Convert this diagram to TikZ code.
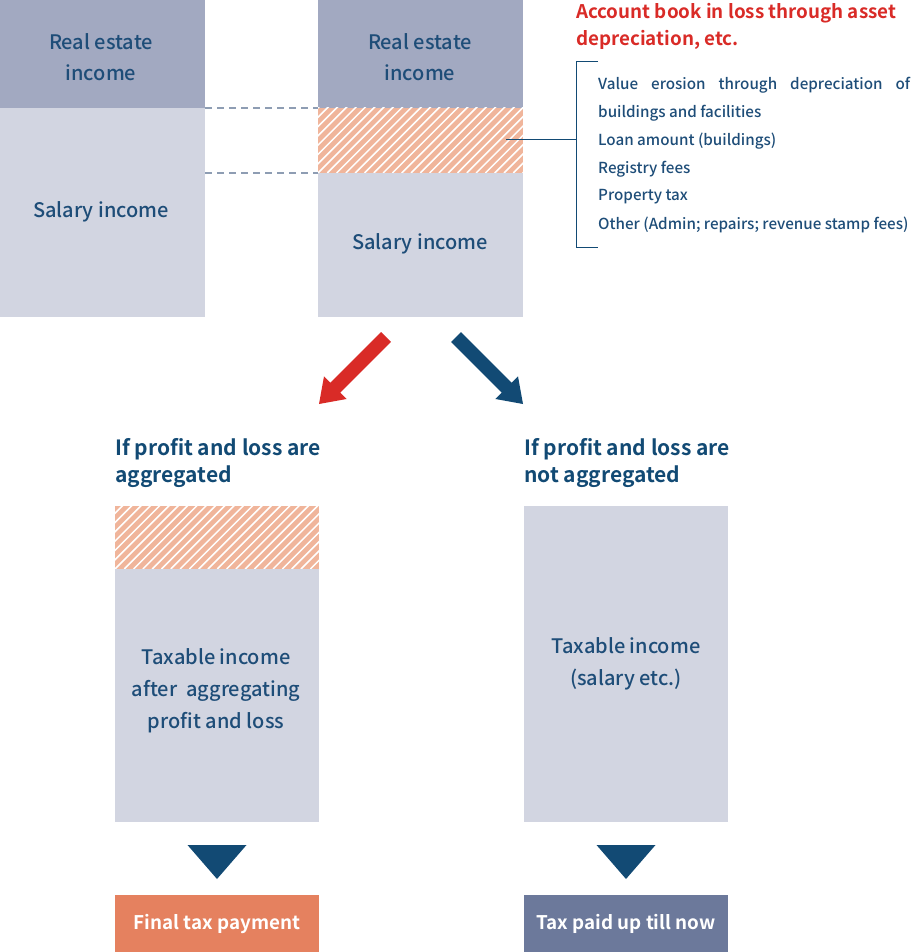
\documentclass[tikz,border=0pt]{standalone}
\usepackage{fontspec}
\setmainfont{Noto Sans CJK JP}[UprightFont=* Medium, BoldFont=* Bold]
\usetikzlibrary{calc}
\definecolor{darkcol}{HTML}{A2A9C1}
\definecolor{lightcol}{HTML}{D2D5E1}
\definecolor{navy}{HTML}{124A74}
\definecolor{txtblue}{HTML}{1E4D78}
\definecolor{redc}{HTML}{D92B27}
\definecolor{hatchc}{HTML}{F0B59B}
\definecolor{orangebox}{HTML}{E5815F}
\definecolor{slatebox}{HTML}{6C799B}
\definecolor{dashc}{HTML}{8E9DB3}
\tikzset{
  blk/.style={anchor=north west, inner sep=0pt, outer sep=0pt, draw=none},
  darkblk/.style={blk, fill=darkcol},
  lightblk/.style={blk, fill=lightcol},
  hatchblk/.style={blk, fill=hatchc, path picture={
      \path (path picture bounding box.south west) coordinate (hsw);
      \foreach \i in {-12,...,26} \draw[white, line width=1.5pt] ([xshift=\i*9.3pt]hsw) -- ++(90,-90);
    }},
  coltxt/.style={text=txtblue, font=\fontsize{20}{31}\selectfont, align=center, inner sep=0pt},
  listtxt/.style={text=txtblue, font=\fontsize{15.2}{28}\selectfont, anchor=west, inner sep=0pt},
  headtxt/.style={text=navy, font=\bfseries\fontsize{21}{28}\selectfont, anchor=west, inner sep=0pt},
  redtxt/.style={text=redc, font=\bfseries\fontsize{18.8}{27}\selectfont, anchor=west, inner sep=0pt},
  finbox/.style={blk, text=white, font=\bfseries\fontsize{18.8}{24}\selectfont, minimum width=204pt, minimum height=57pt},
  dashline/.style={draw=dashc, line width=1.2pt, dash pattern=on 7pt off 5pt},
  brk/.style={draw=navy, line width=1pt},
}
\begin{document}
\begin{tikzpicture}[x=1pt, y=-1pt]
\useasboundingbox (0,0) rectangle (912,952);
% left column
\node[darkblk, minimum width=205pt, minimum height=108pt] (reA) at (0,0) {};
\node[lightblk, minimum width=205pt, minimum height=209pt] (salA) at (0,108) {};
\node[coltxt] (reAt) at (101,57.5) {Real estate\\income};
\node[coltxt] (salAt) at (101,212) {Salary income};
% middle column
\node[darkblk, minimum width=205pt, minimum height=108pt] (reB) at (318,0) {};
\node[hatchblk, minimum width=205pt, minimum height=65pt] (lossB) at (318,108) {};
\node[lightblk, minimum width=205pt, minimum height=144pt] (salB) at (318,173) {};
\node[coltxt] (reBt) at (420,57.5) {Real estate\\income};
\node[coltxt] (salBt) at (420,244) {Salary income};
% dashed guides
\draw[dashline] (reA.south east) -- (reB.south west);
\draw[dashline] (salA.east |- lossB.south) -- (lossB.south west);
% bracket and connector
\coordinate (cstart) at (506,140);
\coordinate (bmid) at (576,140);
\coordinate (btop) at (576,62);
\coordinate (bbot) at (576,247);
\draw[brk] (cstart) -- (bmid);
\draw[brk] ([xshift=22pt]btop) -- (btop) -- (bbot) -- ([xshift=22pt]bbot);
% red title
\node[redtxt] (rt1) at (576,13) {Account book in loss through asset};
\node[redtxt] (rt2) at (576,40) {depreciation, etc.};
% list
\node[listtxt] (l1) at (598,85) {\makebox[312pt][s]{Value erosion through depreciation of}};
\node[listtxt] (l2) at (598,113) {buildings and facilities};
\node[listtxt] (l3) at (598,141) {Loan amount (buildings)};
\node[listtxt] (l4) at (598,169) {Registry fees};
\node[listtxt] (l5) at (598,197) {Property tax};
\node[listtxt] (l6) at (598,225) {Other (Admin; repairs; revenue stamp fees)};
% arrows
\fill[redc] (381.05,332.05) -- (390.9,341.9) -- (340.25,392.65) -- (346.6,399.0) -- (319,404) -- (324.0,376.4) -- (330.35,382.75) -- cycle;
\fill[navy] (460.95,332.05) -- (451.1,341.9) -- (501.75,392.65) -- (495.4,399.0) -- (523,404) -- (518,376.4) -- (511.65,382.75) -- cycle;
% headings
\node[headtxt] (h1) at (115,449) {If profit and loss are};
\node[headtxt] (h2) at (115,477) {aggregated};
\node[headtxt] (h3) at (524,449) {If profit and loss are};
\node[headtxt] (h4) at (524,477) {not aggregated};
% lower left
\node[hatchblk, minimum width=204pt, minimum height=63pt] (hatchC) at (115,506) {};
\node[lightblk, minimum width=204pt, minimum height=253pt] (taxC) at (115,569) {};
\node[coltxt, font=\fontsize{20}{32}\selectfont] (taxCt) at (216,691) {Taxable income\\after~ aggregating\\profit and loss};
% lower right
\node[lightblk, minimum width=204pt, minimum height=316pt] (taxD) at (524,506) {};
\node[coltxt, font=\fontsize{20}{32}\selectfont] (taxDt) at (626,664) {Taxable income\\(salary etc.)};
% final boxes
\node[finbox, fill=orangebox] (finL) at (115,895) {\raisebox{-2.5pt}{Final tax payment}};
\node[finbox, fill=slatebox] (finR) at (524,895) {\raisebox{-2.5pt}{Tax paid up till now}};
% triangles
\fill[navy] ($(taxC.south)+(-29.5,23)$) -- ($(taxC.south)+(29.5,23)$) -- ($(taxC.south)+(0,57)$) -- cycle;
\fill[navy] ($(taxD.south)+(-29.5,23)$) -- ($(taxD.south)+(29.5,23)$) -- ($(taxD.south)+(0,57)$) -- cycle;
\end{tikzpicture}
\end{document}
